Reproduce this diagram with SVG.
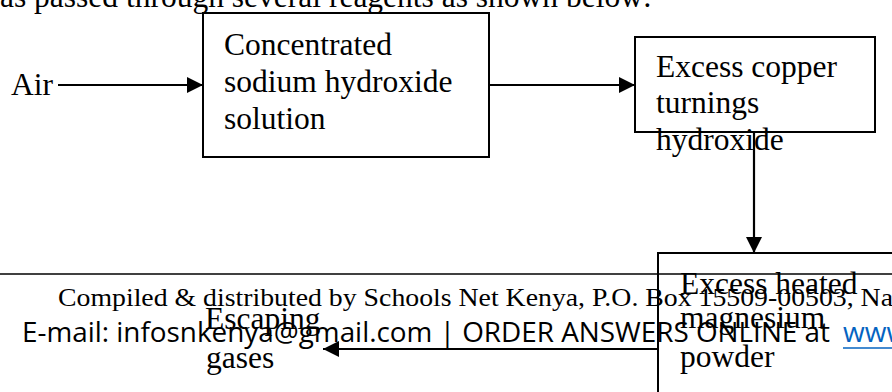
<svg xmlns="http://www.w3.org/2000/svg" width="892" height="392" viewBox="0 0 892 392">
<defs>
<style>
.t{font-family:"Liberation Serif","Times New Roman",serif;font-size:31.5px;fill:#000}
.box{fill:none;stroke:#000;stroke-width:2}
.ln{fill:none;stroke:#000;stroke-width:2.2}
.ft1{font-family:"Liberation Serif",serif;font-size:26px;fill:#000}
.ft2{font-family:"Open Sans","Noto Sans",sans-serif;font-size:28px;fill:#000}
</style>
<marker id="ah" viewBox="0 0 16 16" refX="16" refY="8" markerWidth="16" markerHeight="16" markerUnits="userSpaceOnUse" orient="auto">
<path d="M0,0 L16,8 L0,16 Z" fill="#000"/>
</marker>
</defs>
<rect width="892" height="392" fill="#fff"/>
<text class="t" x="0" y="7">as passed through several reagents as shown below:</text>

<g id="footer">
<line x1="0" y1="274" x2="892" y2="274" stroke="#000" stroke-width="1.3"/>
<text class="ft1" x="58" y="306" textLength="835" lengthAdjust="spacingAndGlyphs">Compiled &amp; distributed by Schools Net Kenya, P.O. Box 15509-00503, Na</text>
<text class="ft2" x="22" y="342" textLength="808" lengthAdjust="spacingAndGlyphs">E-mail: infosnkenya@gmail.com | ORDER ANSWERS ONLINE at</text>
<text class="ft2" x="843" y="342" style="fill:#0563C1">www</text>
<line x1="843" y1="348" x2="892" y2="348" stroke="#0563C1" stroke-width="1.6"/>
</g>

<g id="air">
<text class="t" x="11" y="95">Air</text>
</g>

<g id="naoh">
<rect class="box" x="203" y="13" width="286" height="144"/>
<text class="t" x="224" y="55">Concentrated</text>
<text class="t" x="224" y="92">sodium hydroxide</text>
<text class="t" x="224" y="129">solution</text>
</g>

<g id="copper">
<rect class="box" x="635" y="37" width="240" height="95"/>
<text class="t" x="656" y="77">Excess copper</text>
<text class="t" x="656" y="113">turnings</text>
<text class="t" x="656" y="150">hydroxide</text>
</g>

<g id="magnesium">
<rect class="box" x="658" y="253" width="300" height="200"/>
<text class="t" x="680" y="294">Excess heated</text>
<text class="t" x="680" y="328">magnesium</text>
<text class="t" x="680" y="367">powder</text>
</g>

<g id="escaping">
<text class="t" x="205" y="329">Escaping</text>
<text class="t" x="206" y="368">gases</text>
</g>

<g id="connectors">
<line class="ln" x1="58" y1="85" x2="203" y2="85" marker-end="url(#ah)"/>
<line class="ln" x1="489" y1="85" x2="635" y2="85" marker-end="url(#ah)"/>
<line class="ln" x1="754" y1="132" x2="754" y2="253" marker-end="url(#ah)"/>
<line class="ln" x1="658" y1="349" x2="323" y2="349" marker-end="url(#ah)"/>
</g>
</svg>
